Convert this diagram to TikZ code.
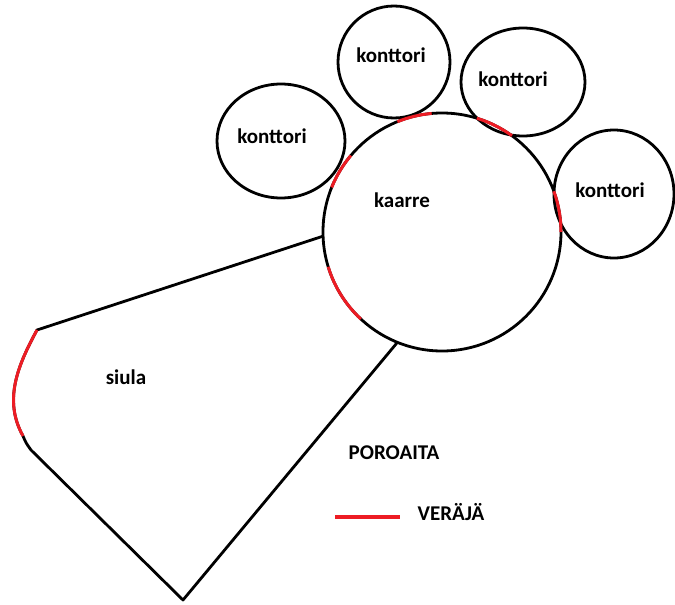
\documentclass[tikz,border=0pt]{standalone}
\usepackage{fontspec}
\setmainfont{Carlito}
\definecolor{verajapuna}{RGB}{237,28,36}
\tikzset{
  aita/.style={line width=2.8pt,black,line join=round},
  veraja/.style={line width=3pt,verajapuna},
  teksti/.style={font=\fontsize{21}{24}\selectfont\bfseries,text=black,inner sep=0pt},
}
\begin{document}
\begin{tikzpicture}[x=1pt,y=-1pt]
\def\kx{442};%kaarren keskipiste x
\def\ky{232};%kaarren keskipiste y
\def\kr{119};%kaarren sade
\useasboundingbox (0,0) rectangle (675,605);

%Konttorit
\foreach \cx/\cy/\rx/\ry/\lx/\ly/\n in {281/141/64/57/272/136/1,394/62/56/56/391/55/2,523/82/62/54/513/79/3,614/194/60/64/610/190/4}{
    \draw[aita] (\cx,\cy) ellipse ({\rx} and {\ry});
    \node[teksti] (konttori\n) at (\lx,\ly) {konttori};
}

%Kaarre
\draw[aita] (\kx,\ky) circle (\kr);
\node[teksti] (kaarre) at (402,200) {kaarre};

%Siula
\coordinate (liitos1) at ([shift={(178:\kr)}]\kx,\ky);
\coordinate (liitos2) at ([shift={(112:\kr)}]\kx,\ky);
\coordinate (siulaA) at (37,330);
\coordinate (siulaB) at (23,436);
\coordinate (siulaC) at (31,450);
\coordinate (siulaD) at (183,600);
\draw[aita] (liitos1) -- (siulaA) .. controls (18,365) and (3,400) .. (siulaB)
    .. controls (26,443) .. (siulaC) -- (siulaD) -- (liitos2);
\node[teksti] (siula) at (126,377) {siula};

%Verajat
\draw[veraja] (siulaA) .. controls (18,365) and (3,400) .. (siulaB);
\foreach \a/\b in {202/220,248/265,287/306,340/360,133/163}{
    \draw[veraja] ([shift={(\a:\kr)}]\kx,\ky) arc (\a:\b:\kr);
}

%Selite
\coordinate (selite1) at (335,517);
\coordinate (selite2) at (400,517);
\node[teksti] (poroaita) at (394,453) {POROAITA};
\draw[veraja,line width=4pt] (selite1) -- (selite2);
\node[teksti] (veraja) at (451,512) {VERÄJÄ};
\end{tikzpicture}
\end{document}
